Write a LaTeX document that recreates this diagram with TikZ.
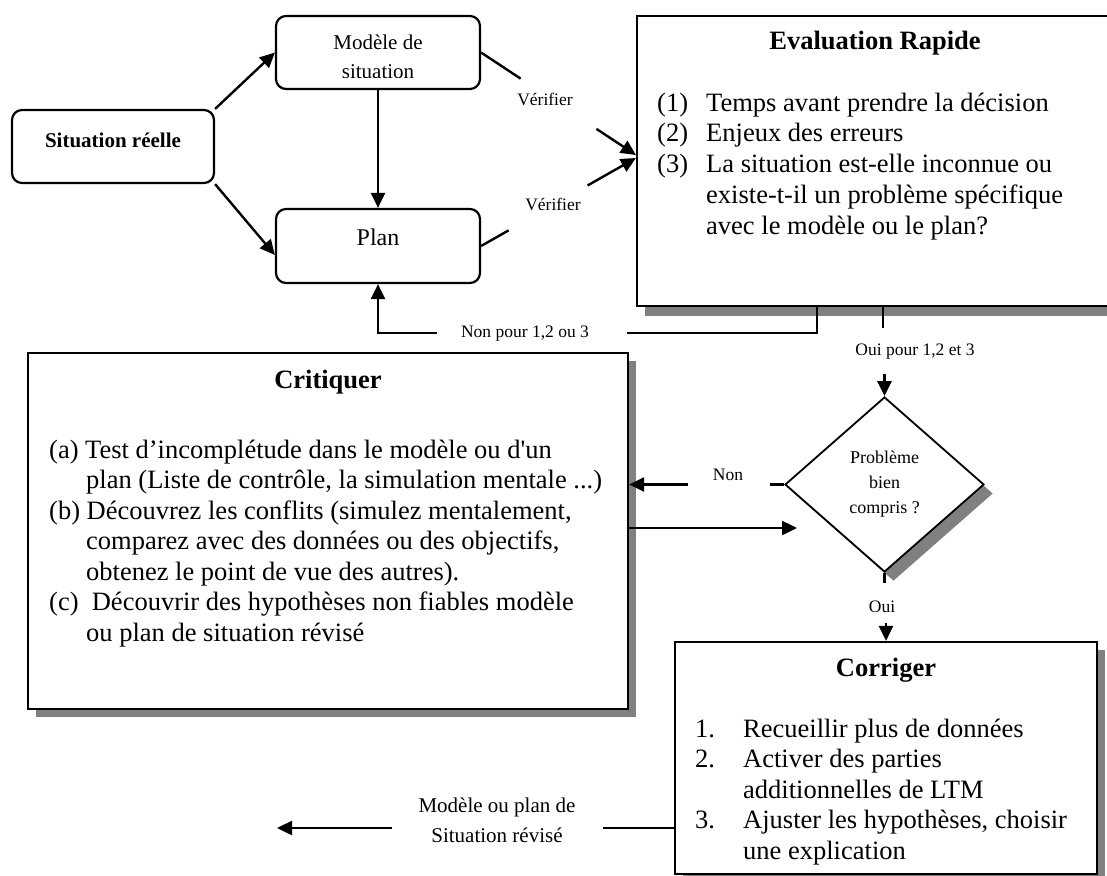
\documentclass[tikz,border=0pt]{standalone}
\usepackage{fontspec}
\setmainfont{Liberation Serif}
\usetikzlibrary{arrows.meta,shapes.geometric,shadows,calc}
\definecolor{shadowgray}{HTML}{808080}

\tikzset{
  wire/.style={line width=2.4pt},
  arrowwire/.style={wire,-{Triangle[length=15pt,width=14pt]}},
  roundbox/.style={draw,line width=2.2pt,rounded corners=10pt,fill=white,inner sep=0pt},
  panel/.style={draw,line width=2.2pt,fill=white,inner sep=0pt,
    drop shadow={shadow xshift=8pt,shadow yshift=-8pt,fill=shadowgray,opacity=1}},
  bodytext/.style={font=\fontsize{26.5}{30.5}\selectfont,inner sep=0pt,anchor=base west},
  headtext/.style={font=\bfseries\fontsize{26.5}{30.5}\selectfont,inner sep=0pt,anchor=base},
  smalllabel/.style={font=\fontsize{17.5}{21}\selectfont,inner sep=0pt,anchor=base},
  midlabel/.style={font=\fontsize{21}{30}\selectfont,inner sep=0pt,anchor=base},
}

\begin{document}
\begin{tikzpicture}[x=1pt,y=-1pt]
\useasboundingbox (0,0) rectangle (1107,875);
\clip (0,0) rectangle (1107,875);

% ---------- boxes ----------
\node[roundbox,minimum width=202pt,minimum height=73pt] (sit) at (113,146.5) {};
\node[roundbox,minimum width=204pt,minimum height=73pt] (modele) at (378,52.5) {};
\node[roundbox,minimum width=204pt,minimum height=74pt] (plan) at (378,246) {};
\node[panel,minimum width=475pt,minimum height=290pt,
      drop shadow={shadow xshift=8pt,shadow yshift=-10pt,fill=shadowgray,opacity=1}] (ev) at (874.5,161) {};
\node[panel,minimum width=600pt,minimum height=356pt] (crit) at (328,531) {};
\node[panel,minimum width=422pt,minimum height=232pt] (cor) at (886,758) {};
\node[shape=diamond,draw,line width=1.8pt,fill=white,inner sep=0pt,
      minimum width=199pt,minimum height=175pt,align=center,
      font=\fontsize{18}{25}\selectfont,
      drop shadow={shadow xshift=9pt,shadow yshift=-9pt,fill=shadowgray,opacity=1}]
      (dia) at (884.5,484.5) {Problème\\bien\\compris ?};

% ---------- texts in the boxes ----------
\node[font=\bfseries\fontsize{21}{28}\selectfont,inner sep=0pt,anchor=base] (tsit) at (113,147) {Situation réelle};
\begin{scope}
  \clip (276,16) rectangle (480,77.5);
  \node[midlabel,font=\fontsize{21}{28}\selectfont] (tmod1) at (378,50) {Modèle de};
  \node[midlabel,font=\fontsize{21}{28}\selectfont] (tmod2) at (378,78.5) {situation};
\end{scope}
\node[font=\fontsize{24}{28}\selectfont,inner sep=0pt,anchor=base] (tplan) at (378,245) {Plan};

\node[headtext] (evtitle) at (875,49.5) {Evaluation Rapide};
\node[bodytext] (evn1) at (657,111) {(1)};
\node[bodytext] (evn2) at (657,141.75) {(2)};
\node[bodytext] (evn3) at (657,172.5) {(3)};
\foreach \txt [count=\k from 0] in {
  Temps avant prendre la décision,
  Enjeux des erreurs,
  La situation est-elle inconnue ou,
  existe-t-il un problème spécifique,
  avec le modèle ou le plan?}
  \node[bodytext] (evl\k) at (706,111+30.75*\k) {\txt};

\node[headtext] (crtitle) at (328,388) {Critiquer};
\node[bodytext] (cr0) at (49,458) {(a) Test d’incomplétude dans le modèle ou d\textquotesingle un};
\node[bodytext] (cr1) at (86,488.5) {plan (Liste de contrôle, la simulation mentale ...)};
\node[bodytext] (cr2) at (49,519) {(b) Découvrez les conflits (simulez mentalement,};
\node[bodytext] (cr3) at (86,549.5) {comparez avec des données ou des objectifs,};
\node[bodytext] (cr4) at (86,580) {obtenez le point de vue des autres).};
\node[bodytext] (cr5) at (49,610.5) {(c)\ \ Découvrir des hypothèses non fiables modèle};
\node[bodytext] (cr6) at (86,641) {ou plan de situation révisé};

\node[headtext] (cotitle) at (886,676) {Corriger};
\node[bodytext] (con1) at (695,737) {1.};
\node[bodytext] (con2) at (695,767.5) {2.};
\node[bodytext] (con3) at (695,828.5) {3.};
\foreach \txt [count=\k from 0] in {
  Recueillir plus de données,
  Activer des parties,
  additionnelles de LTM,
  {Ajuster les hypothèses, choisir},
  une explication}
  \node[bodytext] (col\k) at (743,737+30.5*\k) {\txt};

% ---------- connector end points ----------
\coordinate (t1) at ([yshift=6pt]ev.west);
\coordinate (t2) at ([yshift=3pt]ev.west);
\coordinate (npR) at (627,333);
\coordinate (npL) at (437,333);
\coordinate (npTop) at (817,306);
\coordinate (opTop) at (883,306);
\coordinate (op1) at (883,328);
\coordinate (op2) at (883,375);
\coordinate (nonR) at (770,484.5);
\coordinate (nonL) at (688,484.5);
\coordinate (cr2dia) at (628,528);
\coordinate (dtip) at (797,528);
\coordinate (oui1) at (884.5,583);
\coordinate (oui2) at (884.5,624);
\coordinate (mpStart) at (675,828);
\coordinate (mpR) at (603,828);
\coordinate (mpL) at (392,828);
\coordinate (mtip) at (277,828);

% ---------- connectors ----------
\draw[arrowwire] (sit.north east) -- (modele.west);
\draw[arrowwire] (sit.south east) -- ([yshift=-9pt]plan.west);
\draw[arrowwire] (modele.south) -- (plan.north);

\draw[wire] (modele.east) -- ($(modele.east)!0.255!(t1)$);
\draw[arrowwire] ($(modele.east)!0.745!(t1)$) -- (t1);
\draw[wire] (plan.east) -- ($(plan.east)!0.178!(t2)$);
\draw[arrowwire] ($(plan.east)!0.688!(t2)$) -- (t2);

\draw[wire] (npTop) |- (npR);
\draw[arrowwire] (npL) -| (plan.south);

\draw[wire] (opTop) -- (op1);
\draw[arrowwire] (op2) -- (dia.north |- op2) -- (dia.north);

\draw[wire] (dia.west) -- (nonR);
\draw[arrowwire] (nonL) -- (nonL -| crit.east);
\draw[arrowwire] (cr2dia) -- (dtip);

\draw[wire] (dia.south) -- (oui1);
\draw[arrowwire] (oui2) -- (cor.north |- oui2) -- (cor.north);

\draw[wire] (mpStart) -- (mpR);
\draw[arrowwire] (mpL) -- (mtip);

% ---------- connector labels ----------
\node[smalllabel] (lv1) at (545,105) {Vérifier};
\node[smalllabel] (lv2) at (553,210) {Vérifier};
\node[smalllabel] (lnp) at (525,337) {Non pour 1,2 ou 3};
\node[smalllabel] (lop) at (915,355) {Oui pour 1,2 et 3};
\node[smalllabel] (lnon) at (728,480) {Non};
\node[smalllabel] (loui) at (882,612) {Oui};
\node[midlabel] (lmp1) at (497,812) {Modèle ou plan de};
\node[midlabel] (lmp2) at (497,842) {Situation révisé};
\end{tikzpicture}
\end{document}
